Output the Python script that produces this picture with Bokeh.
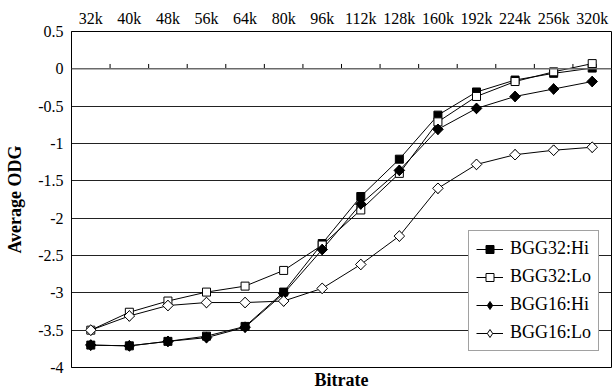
from bokeh.plotting import figure
from bokeh.models import (FactorRange, Range1d, FixedTicker, Title,
                          Legend, LegendItem, Span, ColumnDataSource)
from bokeh.transform import dodge
from bokeh.embed import file_html
from bokeh.resources import INLINE
import math

# Bitrate categories (shown along the top)
bitrates = ["32k", "40k", "48k", "56k", "64k", "80k", "96k",
            "112k", "128k", "160k", "192k", "224k", "256k", "320k"]

# Average ODG per configuration
bgg32_hi = [-3.70, -3.71, -3.65, -3.58, -3.45, -2.99, -2.34,
            -1.71, -1.21, -0.62, -0.31, -0.15, -0.06, 0.01]
bgg32_lo = [-3.50, -3.26, -3.11, -2.99, -2.91, -2.70, -2.36,
            -1.89, -1.40, -0.71, -0.37, -0.17, -0.04, 0.07]
bgg16_hi = [-3.70, -3.71, -3.65, -3.60, -3.46, -3.01, -2.42,
            -1.81, -1.36, -0.81, -0.53, -0.37, -0.27, -0.17]
bgg16_lo = [-3.50, -3.31, -3.17, -3.13, -3.13, -3.11, -2.94,
            -2.62, -2.24, -1.60, -1.28, -1.15, -1.09, -1.05]

y_ticks = [-4, -3.5, -3, -2.5, -2, -1.5, -1, -0.5, 0, 0.5]
y_tick_labels = ["-4", "-3.5", "-3", "-2.5", "-2", "-1.5", "-1", "-0.5", "0", "0.5"]

FONT = "'Liberation Serif'"

p = figure(width=612, height=389,
           x_range=FactorRange(*bitrates, range_padding=0),
           y_range=Range1d(-4, 0.5),
           x_axis_location="above",
           output_backend="svg", toolbar_location=None,
           min_border_left=71, min_border_right=1,
           min_border_top=31, min_border_bottom=20)

p.background_fill_color = "white"
p.border_fill_color = "white"
p.outline_line_color = "black"
p.outline_line_width = 1

# top category axis
xa = p.xaxis[0]
xa.major_tick_line_color = None
xa.major_tick_out = 0
xa.major_tick_in = 0
xa.minor_tick_line_color = None
xa.axis_line_color = None
xa.major_label_text_font = FONT
xa.major_label_text_font_size = "16px"
xa.major_label_text_color = "black"
xa.major_label_standoff = 5

# left value axis
ya = p.yaxis[0]
ya.ticker = FixedTicker(ticks=y_ticks)
ya.major_label_overrides = {float(t): s for t, s in zip(y_ticks, y_tick_labels)}
ya.major_tick_line_color = None
ya.major_tick_out = 0
ya.major_tick_in = 0
ya.minor_tick_line_color = None
ya.axis_line_color = "black"
ya.major_label_text_font = FONT
ya.major_label_text_font_size = "16px"
ya.major_label_text_color = "black"
ya.major_label_standoff = 8
ya.axis_label = "Average ODG"
ya.axis_label_text_font = FONT
ya.axis_label_text_font_style = "bold"
ya.axis_label_text_font_size = "18px"
ya.axis_label_text_color = "black"
ya.axis_label_standoff = 10

# x title under the frame
p.add_layout(Title(text="Bitrate", align="center", text_font=FONT,
                   text_font_style="bold", text_font_size="18px",
                   text_color="black", offset=0, standoff=0), "below")

# horizontal grid lines
p.xgrid.grid_line_color = None
p.ygrid.ticker = FixedTicker(ticks=[-3.5, -3, -2.5, -2, -1.5, -1, -0.5])
p.ygrid.grid_line_color = "#222222"
p.ygrid.grid_line_width = 1

# zero line with category separators
p.add_layout(Span(location=0, dimension="width", line_color="#6a6a6a", line_width=1.5))
sep = ColumnDataSource(dict(x=bitrates[:-1]))
p.segment(x0=dodge("x", 0.5, range=p.x_range), y0=0,
          x1=dodge("x", 0.5, range=p.x_range), y1=0.065,
          source=sep, line_color="black", line_width=1)

items = []

# square-marker series
for name, vals, fill in [("BGG32:Hi", bgg32_hi, "black"),
                         ("BGG32:Lo", bgg32_lo, "white")]:
    src = ColumnDataSource(dict(x=bitrates, y=vals))
    ln = p.line("x", "y", source=src, line_color="black", line_width=1)
    sc = p.scatter("x", "y", source=src, marker="square", size=8,
                   fill_color=fill, line_color="black", line_width=1)
    items.append((name, ln, sc))

# diamond-marker series: a diamond key glyph sits under a rotated square
for name, vals, fill in [("BGG16:Hi", bgg16_hi, "black"),
                         ("BGG16:Lo", bgg16_lo, "white")]:
    src = ColumnDataSource(dict(x=bitrates, y=vals))
    ln = p.line("x", "y", source=src, line_color="black", line_width=1)
    key = p.scatter("x", "y", source=src, marker="diamond", size=10.5,
                    fill_color=fill, line_color="black", line_width=1)
    p.scatter("x", "y", source=src, marker="square", size=7.5, angle=math.pi / 4,
              fill_color=fill, line_color="black", line_width=1)
    items.append((name, ln, key))

legend = Legend(items=[LegendItem(label=n, renderers=[l, m]) for n, l, m in items],
                location=(397, 16))
legend.label_text_font = FONT
legend.label_text_font_size = "18px"
legend.label_text_color = "black"
legend.glyph_width = 27
legend.glyph_height = 20
legend.label_height = 20
legend.spacing = 7
legend.padding = 7
legend.margin = 0
legend.label_standoff = 7
legend.border_line_color = "#444444"
legend.border_line_width = 1
legend.background_fill_color = "white"
legend.background_fill_alpha = 1
p.add_layout(legend, "center")

open("out.html", "w").write(file_html(p, INLINE))
